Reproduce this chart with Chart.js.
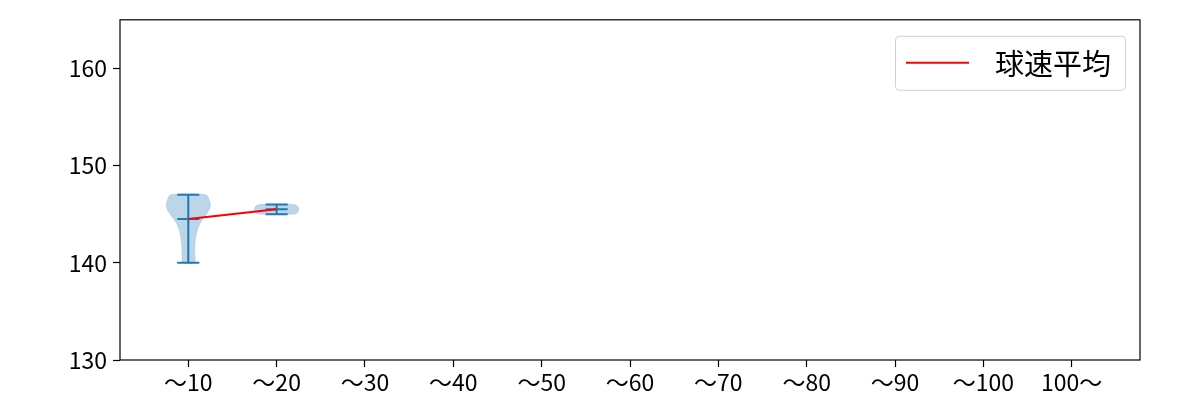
<!DOCTYPE html>
<html>
<head>
<meta charset="utf-8">
<script src="https://cdn.jsdelivr.net/npm/chart.js@4.4.1/dist/chart.umd.min.js"></script>
<style>
  body { margin: 0; background: #fff; }
  canvas { display: block; }
</style>
</head>
<body>
<canvas id="chart" width="1200" height="400"></canvas>
<script>
// categories (pitch count bins) and per-bin speed stats
const categories = ["〜10", "〜20", "〜30", "〜40", "〜50", "〜60", "〜70", "〜80", "〜90", "〜100", "100〜"];
const speedMin  = [140, 145, null, null, null, null, null, null, null, null, null];
const speedMax  = [147, 146, null, null, null, null, null, null, null, null, null];
const speedMean = [144.5, 145.5, null, null, null, null, null, null, null, null, null];
const yTicks = [130, 140, 150, 160];

// violin outlines: speed levels and half widths (in category units)
const violin1Speed = [140, 141, 142, 143, 143.5, 144, 144.5, 145, 145.5, 146, 146.5, 147];
const violin1Width = [0.07, 0.072, 0.076, 0.092, 0.108, 0.13, 0.165, 0.205, 0.24, 0.25, 0.235, 0.2];
const violin2Speed = [145, 145.1, 145.25, 145.5, 145.75, 145.9, 146];
const violin2Width = [0.19, 0.227, 0.243, 0.25, 0.243, 0.227, 0.19];

const legendLabel = "球速平均";
const blue = "#1f77b4";
const fillBlue = "rgba(31, 119, 180, 0.3)";
const tickFont = '"Noto Sans CJK JP", "Noto Sans", sans-serif';

Chart.defaults.font.family = tickFont;
Chart.defaults.color = "#000";

// closed outline of one violin: left side going up, right side coming down
function violinOutline(center, speeds, widths) {
  const pts = [];
  speeds.forEach((s, i) => pts.push({ x: center - widths[i], y: s }));
  for (let i = speeds.length - 1; i >= 0; i--) pts.push({ x: center + widths[i], y: speeds[i] });
  pts.push({ x: center - widths[0], y: speeds[0] });
  return pts;
}

// min / max / mean caps plus the vertical bar
function statLines() {
  const pts = [];
  categories.forEach((c, i) => {
    if (speedMin[i] == null) return;
    const x = i + 1;
    [speedMin[i], speedMax[i], speedMean[i]].forEach(v => {
      pts.push({ x: x - 0.125, y: v }, { x: x + 0.125, y: v }, { x: x, y: null });
    });
    pts.push({ x: x, y: speedMin[i] }, { x: x, y: speedMax[i] }, { x: x, y: null });
  });
  return pts;
}

const datasets = [
  {
    label: legendLabel,
    data: speedMean.map((v, i) => ({ x: i + 1, y: v })),
    borderColor: "red",
    borderWidth: 2,
    pointRadius: 0,
    fill: false
  },
  {
    label: "stats",
    data: statLines(),
    borderColor: blue,
    borderWidth: 2,
    pointRadius: 0,
    spanGaps: false,
    fill: false
  },
  {
    label: "violin1",
    data: violinOutline(1, violin1Speed, violin1Width),
    borderColor: fillBlue,
    borderWidth: 0.5,
    backgroundColor: fillBlue,
    pointRadius: 0,
    tension: 0.3,
    fill: "shape"
  },
  {
    label: "violin2",
    data: violinOutline(2, violin2Speed, violin2Width),
    borderColor: fillBlue,
    borderWidth: 0.5,
    backgroundColor: fillBlue,
    pointRadius: 0,
    tension: 0.3,
    fill: "shape"
  }
];

// matplotlib-style box round the plot area
const framePlugin = {
  id: "frame",
  afterDraw(chart) {
    const { ctx, chartArea: a } = chart;
    ctx.save();
    ctx.strokeStyle = "#000";
    ctx.lineWidth = 1.2;
    ctx.strokeRect(a.left, a.top, a.right - a.left, a.bottom - a.top);
    ctx.restore();
  }
};

// legend box in the upper right corner of the plot
const legendPlugin = {
  id: "innerLegend",
  afterDraw(chart) {
    const { ctx, chartArea: a } = chart;
    const ds = chart.data.datasets[0];
    ctx.save();
    ctx.font = '29px "Noto Sans CJK JP", sans-serif';
    const textW = ctx.measureText(ds.label).width;
    const w = 11 + 63 + 26 + textW + 14;
    const h = 54;
    const x0 = a.right - 15 - w;
    const y0 = a.top + 16;
    ctx.fillStyle = "rgba(255,255,255,0.8)";
    ctx.strokeStyle = "#d0d0d0";
    ctx.lineWidth = 1;
    ctx.beginPath();
    ctx.roundRect(x0 + 0.5, y0 + 0.5, w, h, 4);
    ctx.fill();
    ctx.stroke();
    ctx.strokeStyle = ds.borderColor;
    ctx.lineWidth = 2;
    ctx.beginPath();
    ctx.moveTo(x0 + 11, y0 + h / 2);
    ctx.lineTo(x0 + 74, y0 + h / 2);
    ctx.stroke();
    ctx.fillStyle = "#000";
    ctx.textBaseline = "middle";
    ctx.fillText(ds.label, x0 + 100, y0 + h / 2 + 1);
    ctx.restore();
  }
};

new Chart(document.getElementById("chart").getContext("2d"), {
  type: "line",
  data: { datasets: datasets },
  options: {
    responsive: false,
    animation: false,
    layout: { padding: { top: 19, right: 60, left: 0, bottom: 0 } },
    plugins: {
      legend: { display: false },
      tooltip: { enabled: false }
    },
    scales: {
      x: {
        type: "linear",
        min: 0.227,
        max: 11.773,
        afterBuildTicks: scale => { scale.ticks = categories.map((c, i) => ({ value: i + 1 })); },
        afterFit: scale => { scale.height = 40; },
        grid: { drawOnChartArea: false, drawTicks: true, tickLength: 7, tickColor: "#000", tickWidth: 1.2 },
        border: { display: false },
        ticks: {
          callback: value => categories[Math.round(value) - 1],
          font: { size: 23 },
          color: "#000",
          padding: 1,
          maxRotation: 0,
          autoSkip: false
        }
      },
      y: {
        type: "linear",
        min: 130,
        max: 165,
        afterBuildTicks: scale => { scale.ticks = yTicks.map(v => ({ value: v })); },
        afterFit: scale => { scale.width = 120; },
        grid: { drawOnChartArea: false, drawTicks: true, tickLength: 7, tickColor: "#000", tickWidth: 1.2 },
        border: { display: false },
        ticks: {
          font: { size: 23 },
          color: "#000",
          padding: 6
        }
      }
    }
  },
  plugins: [framePlugin, legendPlugin]
});
</script>
</body>
</html>
